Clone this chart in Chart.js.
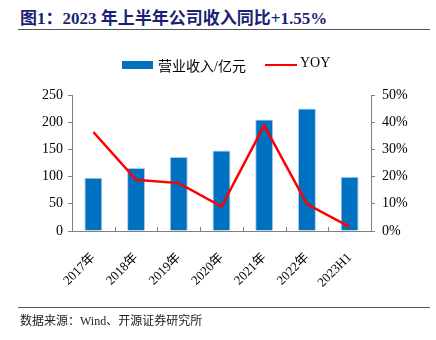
<!DOCTYPE html>
<html>
<head>
<meta charset="utf-8">
<script src="https://cdn.jsdelivr.net/npm/chart.js@4"></script>
<style>
  body { margin: 0; background: #fff; }
  #wrap { position: relative; width: 436px; height: 340px; overflow: hidden; font-family: "Liberation Serif", "Noto Sans CJK SC", serif; }
  #chart { position: absolute; left: 0; top: 0; }
  .title { position: absolute; left: 20px; top: 4px; font-size: 17px; font-weight: bold; color: #1d1f76; white-space: nowrap; }
  .rule { position: absolute; left: 18px; width: 412px; height: 0; border-top: 1.5px solid #555; }
  .legend { position: absolute; top: 55px; left: 122px; font-size: 14px; color: #000; white-space: nowrap; }
  .legend span { position: absolute; top: 0; }
  .source { position: absolute; left: 20px; top: 311px; font-size: 12px; color: #222; white-space: nowrap; }
</style>
</head>
<body>
<div id="wrap">
  <div class="title">图1：2023 年上半年公司收入同比+1.55%</div>
  <div class="rule" style="top:29px"></div>
  <canvas id="chart" width="436" height="340"></canvas>
  <div class="legend">
    <span style="left:0;top:6px;width:31px;height:8px;background:#0070c0"></span>
    <span style="left:36px;">营业收入/亿元</span>
    <span style="left:143px;top:9px;width:32px;height:2px;background:#ff0000"></span>
    <span style="left:178px;">YOY</span>
  </div>
  <div class="rule" style="top:307px"></div>
  <div class="source">数据来源：Wind、开源证券研究所</div>
</div>
<script>
// data
const categories = ['2017年', '2018年', '2019年', '2020年', '2021年', '2022年', '2023H1'];
const revenue = [98, 116, 136, 148, 205, 225, 99.5];   // 亿元
const yoy = [36.4, 18.8, 17.6, 9.0, 38.8, 9.9, 1.55];   // %

const axisFont = { family: '"Liberation Serif", "Noto Sans CJK SC", serif', size: 14 };

// small upward tick marks between categories on the x axis
const innerTicks = {
  id: 'innerTicks',
  afterDatasetsDraw(chart) {
    const x = chart.scales.x;
    const ctx = chart.ctx;
    const bottom = chart.chartArea.bottom;
    ctx.save();
    ctx.strokeStyle = '#808080';
    ctx.lineWidth = 1;
    for (let i = 1; i < categories.length; i++) {
      const px = Math.round((x.getPixelForValue(i - 1) + x.getPixelForValue(i)) / 2) + 0.5;
      ctx.beginPath();
      ctx.moveTo(px, bottom);
      ctx.lineTo(px, bottom - 4);
      ctx.stroke();
    }
    ctx.restore();
  }
};

new Chart(document.getElementById('chart'), {
  type: 'bar',
  data: {
    labels: categories,
    datasets: [
      {
        type: 'line',
        label: 'YOY',
        data: yoy,
        yAxisID: 'y1',
        borderColor: '#ff0000',
        borderWidth: 2.5,
        pointRadius: 0,
        tension: 0,
        order: 0
      },
      {
        label: '营业收入/亿元',
        data: revenue,
        yAxisID: 'y',
        backgroundColor: '#0070c0',
        borderColor: '#a9cbe8',
        borderWidth: { top: 1, left: 1, right: 1, bottom: 0 },
        barPercentage: 0.42,
        categoryPercentage: 1,
        order: 1
      }
    ]
  },
  options: {
    responsive: false,
    animation: false,
    layout: { padding: { top: 95, left: 0, right: 0, bottom: 0 } },
    plugins: {
      legend: { display: false },
      tooltip: { enabled: false }
    },
    scales: {
      x: {
        offset: true,
        grid: { display: false },
        border: { color: '#808080', width: 1 },
        ticks: { color: '#000', font: { family: axisFont.family, size: 13 }, minRotation: 45, maxRotation: 45, padding: 11 },
        afterFit: s => { s.height = 109; }
      },
      y: {
        position: 'left',
        min: 0,
        max: 250,
        grid: { drawOnChartArea: false, tickLength: 4, color: '#808080' },
        border: { color: '#808080', width: 1 },
        ticks: { stepSize: 50, color: '#000', font: axisFont, padding: 5 },
        afterFit: s => { s.width = 72; }
      },
      y1: {
        position: 'right',
        min: 0,
        max: 50,
        grid: { drawOnChartArea: false, tickLength: 4, color: '#808080' },
        border: { color: '#808080', width: 1 },
        ticks: { stepSize: 10, color: '#000', font: axisFont, padding: 7, callback: v => v + '%' },
        afterFit: s => { s.width = 65; }
      }
    }
  },
  plugins: [innerTicks]
});
</script>
</body>
</html>
